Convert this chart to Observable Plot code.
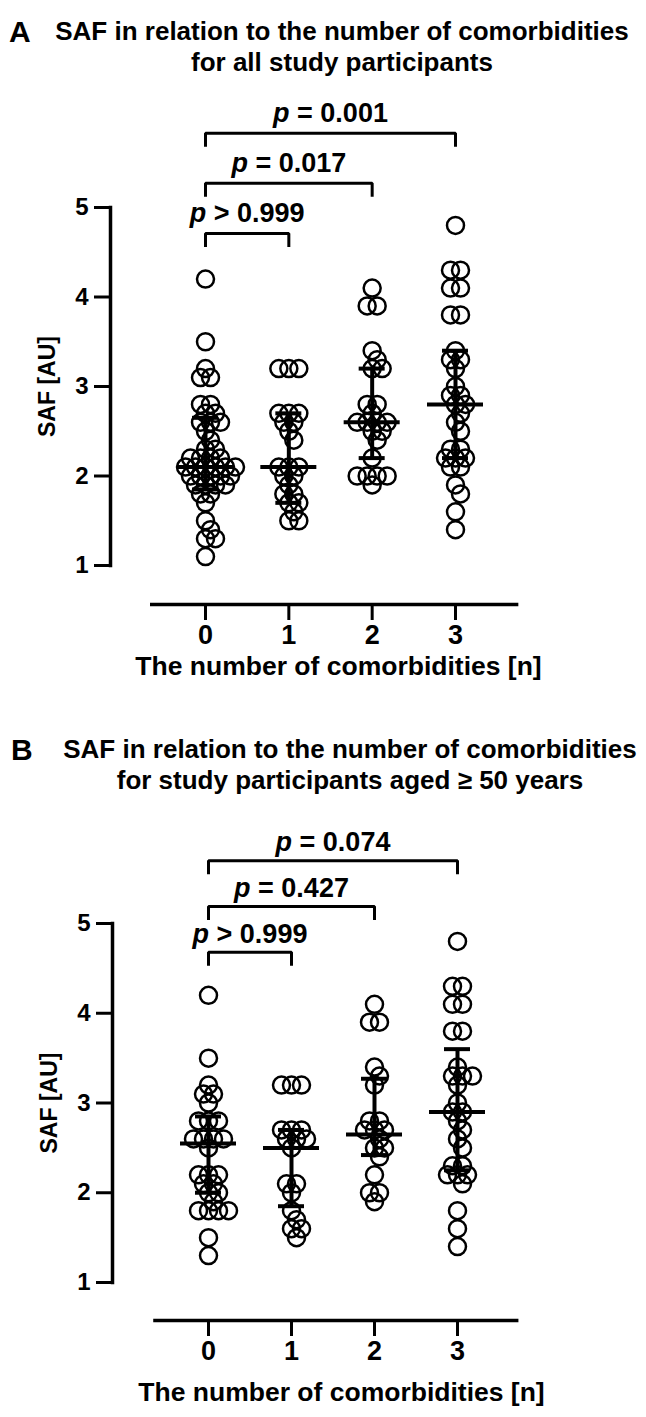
<!DOCTYPE html>
<html>
<head>
<meta charset="utf-8">
<script src="https://cdn.jsdelivr.net/npm/d3@7"></script>
<script src="https://cdn.jsdelivr.net/npm/@observablehq/plot@0.6"></script>
<style>
  body { margin: 0; background: #fff; }
  #root { position: relative; width: 646px; height: 1417px; overflow: hidden;
          font-family: "Liberation Sans", Arial, sans-serif; font-weight: bold; color: #000; }
  .letter { position: absolute; font-size: 30px; line-height: 32px; }
  .title { position: absolute; width: 600px; text-align: center; font-size: 26px; line-height: 31px; white-space: nowrap; }
  .panel { position: absolute; left: 0; }
</style>
</head>
<body>
<div id="root">
  <div class="letter" style="left:9px;top:16px;">A</div>
  <div class="title" style="left:42px;top:16px;">SAF in relation to the number of comorbidities<br>for all study participants</div>
  <div class="panel" id="panelA" style="top:90px;"></div>
  <div class="letter" style="left:11px;top:734px;">B</div>
  <div class="title" style="left:50px;top:734px;">SAF in relation to the number of comorbidities<br>for study participants aged ≥ 50 years</div>
  <div class="panel" id="panelB" style="top:808px;"></div>
</div>
<script>
// ---------- data ----------
const categories = [0, 1, 2, 3];
const tickLabels = ["0", "1", "2", "3"];
const yTicks = [1, 2, 3, 4, 5];
const yLabel = "SAF [AU]";
const xLabel = "The number of comorbidities [n]";

// Panel A: all study participants
const allG0 = [4.2, 3.5, 3.2, 3.1, 3.1, 2.8, 2.8, 2.7, 2.7, 2.6, 2.6, 2.6, 2.5, 2.4, 2.3, 2.3, 2.2, 2.2, 2.2, 2.2, 2.1, 2.1, 2.1, 2.1, 2.1, 2.1, 2.0, 2.0, 2.0, 2.0, 2.0, 1.9, 1.9, 1.9, 1.9, 1.8, 1.8, 1.7, 1.5, 1.4, 1.3, 1.3, 1.1];
const allG1 = [3.2, 3.2, 3.2, 2.7, 2.7, 2.7, 2.6, 2.6, 2.5, 2.4, 2.1, 2.1, 2.1, 2.0, 2.0, 1.9, 1.8, 1.8, 1.7, 1.7, 1.6, 1.5, 1.5];
const allG2 = [4.1, 3.9, 3.9, 3.4, 3.3, 3.2, 3.2, 2.8, 2.8, 2.7, 2.6, 2.6, 2.6, 2.6, 2.5, 2.5, 2.4, 2.2, 2.0, 2.0, 2.0, 2.0, 1.9];
const allG3 = [4.8, 4.3, 4.3, 4.1, 4.1, 3.8, 3.8, 3.4, 3.3, 3.3, 3.2, 3.0, 2.9, 2.9, 2.8, 2.8, 2.7, 2.6, 2.5, 2.3, 2.3, 2.2, 2.2, 2.2, 2.1, 2.1, 1.9, 1.8, 1.6, 1.4];
const allMedian = [2.1, 2.1, 2.6, 2.8];
const allLower = [1.85, 1.7, 2.2, 2.2];
const allUpper = [2.65, 2.7, 3.2, 3.4];
const allCompareTo = [1, 2, 3];
const allPLabels = ["p > 0.999", "p = 0.017", "p = 0.001"];

// Panel B: participants aged >= 50 years
const oldG0 = [4.2, 3.5, 3.2, 3.1, 3.1, 3.0, 2.8, 2.8, 2.8, 2.6, 2.6, 2.6, 2.6, 2.5, 2.2, 2.2, 2.2, 2.1, 2.1, 2.0, 2.0, 1.9, 1.8, 1.8, 1.8, 1.8, 1.5, 1.3];
const oldG1 = [3.2, 3.2, 3.2, 2.7, 2.7, 2.7, 2.6, 2.6, 2.6, 2.5, 2.1, 2.1, 2.0, 1.8, 1.7, 1.6, 1.6, 1.5];
const oldG2 = [4.1, 3.9, 3.9, 3.4, 3.3, 3.2, 2.8, 2.8, 2.7, 2.7, 2.7, 2.6, 2.5, 2.5, 2.4, 2.2, 2.0, 2.0, 1.9];
const oldG3 = [4.8, 4.3, 4.3, 4.1, 4.1, 3.8, 3.8, 3.4, 3.3, 3.3, 3.3, 3.2, 3.0, 2.9, 2.9, 2.8, 2.7, 2.6, 2.5, 2.3, 2.3, 2.2, 2.2, 2.2, 2.1, 1.8, 1.6, 1.4];
const oldMedian = [2.55, 2.5, 2.65, 2.9];
const oldLower = [2.0, 1.85, 2.42, 2.25];
const oldUpper = [2.85, 2.7, 3.27, 3.6];
const oldCompareTo = [1, 2, 3];
const oldPLabels = ["p > 0.999", "p = 0.427", "p = 0.074"];

// ---------- drawing ----------
const FONT = '"Liberation Sans", Arial, sans-serif';

// Row-centred scatter layout (like a GraphPad scatter dot plot)
function swarm(groups, pxPerX, pxPerY) {
  const out = [];
  const dmin = 10, spacing = 10, shiftStep = 5;
  groups.forEach((vals, gi) => {
    const placed = [];
    const rows = d3.groups(vals, v => v); // keeps order of first appearance
    rows.forEach(([v, members]) => {
      const n = members.length;
      const py = v * pxPerY;
      const base = members.map((_, i) => (i - (n - 1) / 2) * spacing);
      let shift = 0;
      for (let k = 0; k < 40; k++) {
        const s = k === 0 ? 0 : (k % 2 ? 1 : -1) * Math.ceil(k / 2) * shiftStep;
        const ok = base.every(b => placed.every(p => Math.hypot(p.px - (b + s), p.py - py) >= dmin - 1e-6));
        if (ok) { shift = s; break; }
      }
      base.forEach(b => {
        placed.push({px: b + shift, py});
        out.push({group: categories[gi], value: v, xpos: categories[gi] + (b + shift) / pxPerX});
      });
    });
  });
  return out;
}

function panel(cfg) {
  const H = cfg.height;
  const frameH = H - cfg.marginTop - cfg.marginBottom;
  const pxPerY = frameH / 4;
  const pxPerX = (cfg.xRange[1] - cfg.xRange[0]) / 3;
  const pts = swarm(cfg.groups, pxPerX, pxPerY);
  const summary = categories.map((c, i) => ({c, med: cfg.median[i], lo: cfg.lower[i], hi: cfg.upper[i]}));
  const medW = 28 / pxPerX, capW = 13 / pxPerX;
  const brackets = [];
  const comps = cfg.compareTo.map((to, i) => {
    const level = cfg.bracketBase + i * cfg.bracketStep;
    const drop = 12 / pxPerY;
    brackets.push({k: i, x: categories[0], y: level - drop},
                  {k: i, x: categories[0], y: level},
                  {k: i, x: to, y: level},
                  {k: i, x: to, y: level - drop});
    return {mid: (categories[0] + to) / 2, level, label: cfg.pLabels[i]};
  });
  const svg = Plot.plot({
    width: 646,
    height: H,
    marginLeft: cfg.marginLeft,
    marginRight: cfg.marginRight,
    marginTop: cfg.marginTop,
    marginBottom: cfg.marginBottom,
    x: {domain: [0, 3], range: cfg.xRange},
    y: {domain: [1, 5]},
    style: {fontFamily: FONT, fontWeight: "bold", color: "#000", background: "#fff", overflow: "visible"},
    marks: [
      Plot.frame({anchor: "left", strokeWidth: 3.5}),
      Plot.axisY({ticks: yTicks, tickFormat: "d", tickSize: 16, tickPadding: 6, strokeWidth: 3, fontSize: 24, fontWeight: "bold", label: null}),
      Plot.text([yLabel], {frameAnchor: "left", textAnchor: "middle", rotate: -90, dx: -63, fontSize: 23, fontWeight: "bold"}),
      Plot.ruleY([1], {x1: cfg.xLine[0], x2: cfg.xLine[1], dy: cfg.xAxisOffset, strokeWidth: 3.5}),
      Plot.axisX({ticks: categories, tickFormat: i => tickLabels[i], tickSize: 16, tickPadding: 4, dy: cfg.xAxisOffset,
                  strokeWidth: 3, fontSize: 27, fontWeight: "bold", label: null}),
      Plot.text([xLabel], {frameAnchor: "bottom", dy: cfg.xTitleOffset, fontSize: 26.5, fontWeight: "bold"}),
      Plot.dot(pts, {x: "xpos", y: "value", r: 8.5, stroke: "#000", strokeWidth: 2.5, fill: "none"}),
      Plot.ruleX(summary, {x: "c", y1: "lo", y2: "hi", strokeWidth: 4}),
      Plot.ruleY(summary, {y: "med", x1: d => d.c - medW, x2: d => d.c + medW, strokeWidth: 4}),
      Plot.ruleY(summary, {y: "lo", x1: d => d.c - capW, x2: d => d.c + capW, strokeWidth: 4}),
      Plot.ruleY(summary, {y: "hi", x1: d => d.c - capW, x2: d => d.c + capW, strokeWidth: 4}),
      Plot.line(brackets, {x: "x", y: "y", z: "k", strokeWidth: 3, strokeLinejoin: "miter", strokeLinecap: "square"}),
      Plot.text(comps, {x: "mid", y: "level", text: "label", dy: -cfg.labelOffset, fontSize: 27, fontWeight: "bold"})
    ]
  });
  // italic "p"
  d3.select(svg).selectAll("text").filter(function () {
    return /^p [=>]/.test(this.textContent) && this.childElementCount === 0;
  }).each(function () {
    const t = this.textContent;
    const s = d3.select(this);
    s.text(null);
    s.append("tspan").attr("font-style", "italic").text("p");
    s.append("tspan").text(t.slice(1));
  });
  return svg;
}

document.getElementById("panelA").append(panel({
  groups: [allG0, allG1, allG2, allG3],
  median: allMedian, lower: allLower, upper: allUpper,
  compareTo: allCompareTo, pLabels: allPLabels,
  height: 610, marginTop: 117, marginBottom: 135, marginLeft: 110, marginRight: 80,
  xRange: [205, 455], xLine: [-0.66, 3.76], xAxisOffset: 39, xTitleOffset: 109,
  bracketBase: 4.71, bracketStep: 0.56, labelOffset: 20
}));

document.getElementById("panelB").append(panel({
  groups: [oldG0, oldG1, oldG2, oldG3],
  median: oldMedian, lower: oldLower, upper: oldUpper,
  compareTo: oldCompareTo, pLabels: oldPLabels,
  height: 609, marginTop: 115, marginBottom: 135, marginLeft: 112, marginRight: 76,
  xRange: [208, 457], xLine: [-0.66, 3.74], xAxisOffset: 38, xTitleOffset: 118,
  bracketBase: 4.68, bracketStep: 0.51, labelOffset: 18
}));
</script>
</body>
</html>
